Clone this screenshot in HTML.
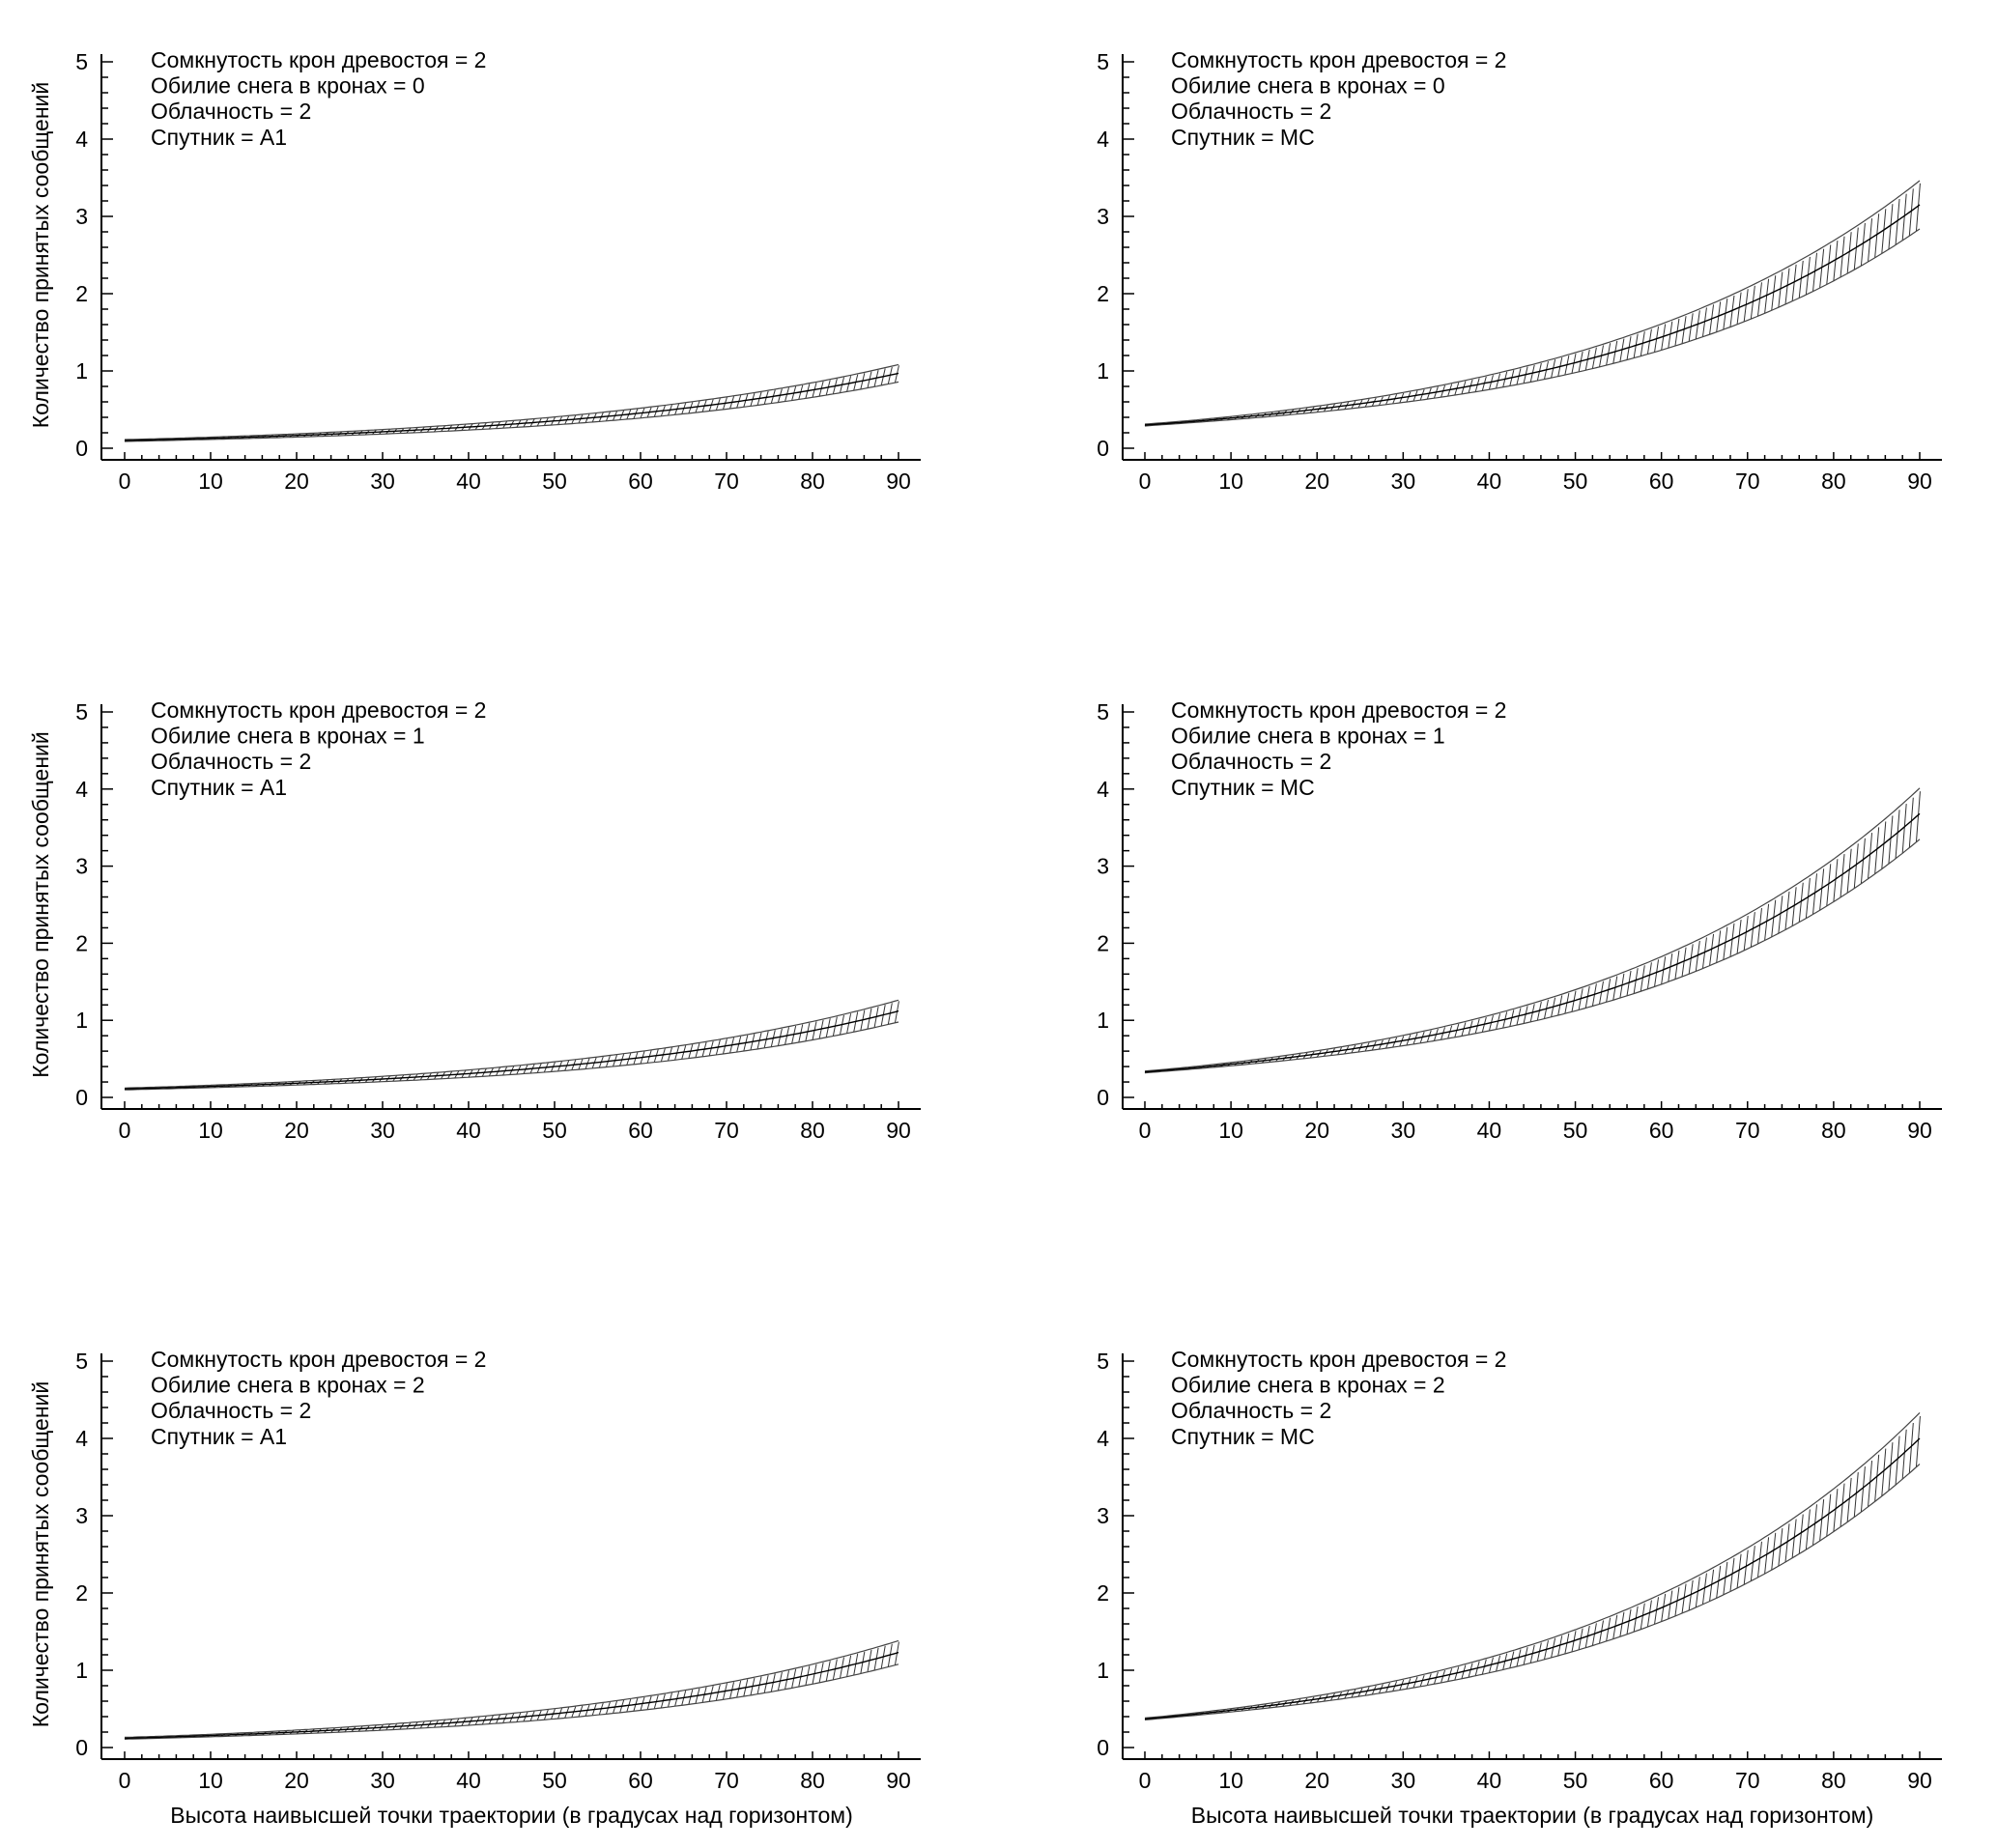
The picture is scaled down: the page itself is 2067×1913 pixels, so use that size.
<!DOCTYPE html>
<html><head><meta charset="utf-8">
<style>
html,body{margin:0;padding:0;background:#fff;}
svg{display:block;}
text{font-family:"Liberation Sans",sans-serif;fill:#000;}
</style></head>
<body>
<svg id="s" width="2067" height="1913" viewBox="0 0 2067 1913" xmlns="http://www.w3.org/2000/svg"></svg>
<script>
const S=document.getElementById('s');
let h='';
const panels=[
 {col:0,row:0,a:0.10,e:0.97,w:0.10,n:'0',sat:'A1'},
 {col:1,row:0,a:0.30,e:3.15,w:0.30,n:'0',sat:'MC'},
 {col:0,row:1,a:0.11,e:1.12,w:0.13,n:'1',sat:'A1'},
 {col:1,row:1,a:0.33,e:3.68,w:0.32,n:'1',sat:'MC'},
 {col:0,row:2,a:0.12,e:1.23,w:0.14,n:'2',sat:'A1'},
 {col:1,row:2,a:0.37,e:4.0,w:0.32,n:'2',sat:'MC'}];
const rows=[[64,464],[737,1136],[1409,1809]];
const cols=[{ax:105,x0:129,x90:930,xr:953,tx:156},{ax:1162,x0:1185,x90:1987,xr:2010,tx:1212}];
for(const p of panels){
 const c=cols[p.col],r=rows[p.row];
 const y5=r[0],y0=r[1],u=(y0-y5)/5,xa=y0+12;
 const X=v=>c.x0+(c.x90-c.x0)*v/90, Y=v=>y0-u*v;
 h+=`<line x1="${c.ax}" y1="${y5-8}" x2="${c.ax}" y2="${xa}" stroke="#000" stroke-width="2"/>`;
 h+=`<line x1="${c.ax}" y1="${xa}" x2="${c.xr}" y2="${xa}" stroke="#000" stroke-width="2"/>`;
 for(let i=0;i<=25;i++){const y=Y(i*0.2);const L=i%5==0?12:7;
  h+=`<line x1="${c.ax}" y1="${y}" x2="${c.ax+L}" y2="${y}" stroke="#000" stroke-width="1.5"/>`;
  if(i%5==0)h+=`<text x="${c.ax-14}" y="${y+8}" font-size="23" text-anchor="end">${i/5}</text>`;}
 for(let i=0;i<=45;i++){const x=X(i*2);const L=i%5==0?8:5;
  h+=`<line x1="${x}" y1="${xa}" x2="${x}" y2="${xa-L}" stroke="#000" stroke-width="1.5"/>`;
  if(i%5==0)h+=`<text x="${x}" y="${xa+30}" font-size="23" text-anchor="middle">${i*2}</text>`;}
 const lines=['Сомкнутость крон древостоя = 2','Обилие снега в кронах = '+p.n,'Облачность = 2','Спутник = '+p.sat];
 lines.forEach((t,i)=>h+=`<text x="${c.tx}" y="${y5+6+i*26.6}" font-size="23">${t}</text>`);
 const b=Math.log(p.e/p.a)/90;
 const f=v=>p.a*Math.exp(b*v), hw=v=>0.012+p.w*Math.pow(v/90,1.6);
 let m='',up='',lo='';
 for(let v=0;v<=90;v+=0.5){m+=(v?'L':'M')+X(v).toFixed(1)+','+Y(f(v)).toFixed(1);
  up+=(v?'L':'M')+X(v).toFixed(1)+','+Y(f(v)+hw(v)).toFixed(1);
  lo+=(v?'L':'M')+X(v).toFixed(1)+','+Y(f(v)-hw(v)).toFixed(1);}
 for(let v=0;v<=90;v+=0.8){
  h+=`<line x1="${X(v)}" y1="${Y(f(v)-hw(v))}" x2="${X(v)+4}" y2="${Y(f(v)+hw(v))}" stroke="#333" stroke-width="1"/>`;}
 h+=`<path d="${up}" fill="none" stroke="#444" stroke-width="1.2"/><path d="${lo}" fill="none" stroke="#444" stroke-width="1.2"/>`;
 h+=`<path d="${m}" fill="none" stroke="#000" stroke-width="1.4"/>`;
 if(p.col==0){const cy=(y5+y0)/2;h+=`<text transform="translate(50,${cy}) rotate(-90)" font-size="23" text-anchor="middle">Количество принятых сообщений</text>`;}
 if(p.row==2){h+=`<text x="${(c.x0+c.x90)/2}" y="1887" font-size="23" text-anchor="middle">Высота наивысшей точки траектории (в градусах над горизонтом)</text>`;}
}
S.innerHTML=h;
</script>
</body></html>
